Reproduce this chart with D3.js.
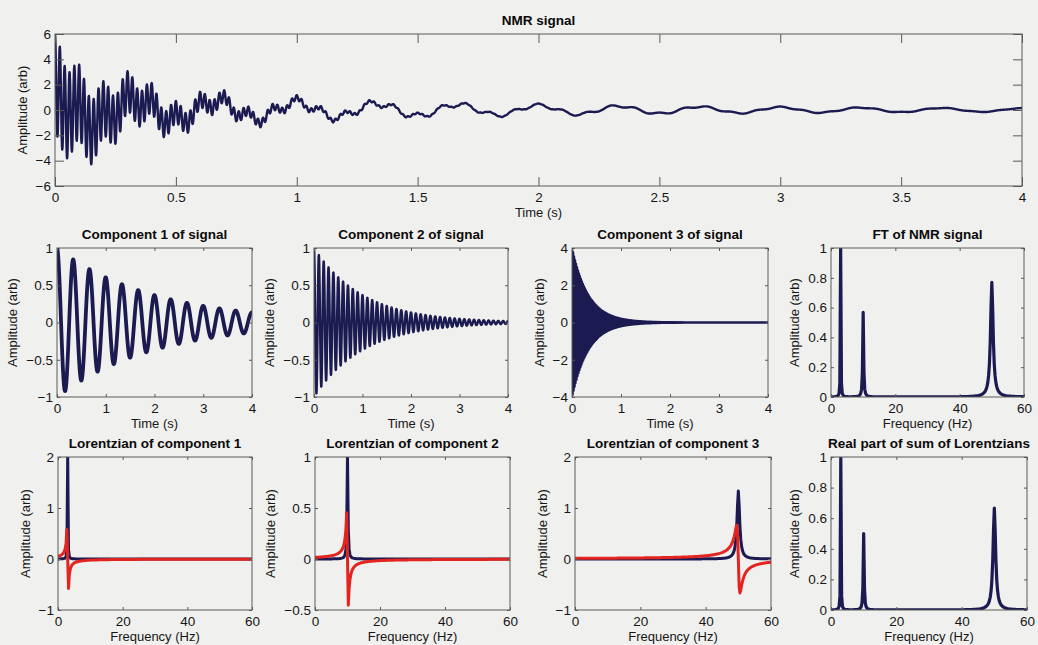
<!DOCTYPE html>
<html><head><meta charset="utf-8">
<script src="https://cdn.jsdelivr.net/npm/d3@7"></script>
<style>
html,body{margin:0;padding:0;background:#f0f0ee;}
svg{display:block;font-family:"Liberation Sans",Arial,Helvetica,sans-serif;}
</style></head><body>
<svg id="chart" width="1038" height="645"></svg>
<script>
// ---------- values ----------
// three damped oscillations that make up the NMR signal
const componentFreqHz    = [3, 10, 50];     // peak positions in the spectra
const componentAmplitude = [1, 1, 4];       // starting amplitudes of components 1..3
const componentDecayS    = [2, 1, 0.333];   // decay times (from envelopes / Lorentzian heights)
const sampleRateHz = 1000;
const durationS = 4;
const freqStepHz = 0.25;
const freqMaxHz = 60;

const panelTitles = ["NMR signal", "Component 1 of signal", "Component 2 of signal", "Component 3 of signal",
  "FT of NMR signal", "Lorentzian of component 1", "Lorentzian of component 2",
  "Lorentzian of component 3", "Real part of sum of Lorentzians"];
const xLabels = ["Time (s)", "Frequency (Hz)"];
const yLabel = "Amplitude (arb)";

const topXTicks = [0, 0.5, 1, 1.5, 2, 2.5, 3, 3.5, 4];
const topYTicks = [-6, -4, -2, 0, 2, 4, 6];
const timeTicks = [0, 1, 2, 3, 4];
const freqTicks = [0, 20, 40, 60];
const unitTicks = [-1, -0.5, 0, 0.5, 1];
const comp3Ticks = [-4, -2, 0, 2, 4];
const normTicks = [0, 0.2, 0.4, 0.6, 0.8, 1];
const lor13Ticks = [-1, 0, 1, 2];
const lor2Ticks = [-0.5, 0, 0.5, 1];

// ---------- series built from those values ----------
const times = d3.range(0, durationS * sampleRateHz + 1).map(n => n / sampleRateHz);
const comps = componentFreqHz.map((f, k) =>
  times.map(t => [t, componentAmplitude[k] * Math.cos(2 * Math.PI * f * t) * Math.exp(-t / componentDecayS[k])]));
const nmrSignal = times.map((t, i) => [t, d3.sum(comps, c => c[i][1])]);

const freqs = d3.range(0, Math.round(freqMaxHz / freqStepHz) + 1).map(i => i * freqStepHz);
const lorentz = componentFreqHz.map((f0, k) => freqs.map(f => {
  const T = componentDecayS[k], A = componentAmplitude[k];
  const x = 2 * Math.PI * (f - f0) * T;
  return {f, re: A * T / (1 + x * x), im: -A * T * x / (1 + x * x)};
}));
// spectrum of the recorded (4 s long) signal
const ftRaw = freqs.map(f => {
  let re = 0;
  componentFreqHz.forEach((f0, k) => {
    const T = componentDecayS[k], A = componentAmplitude[k];
    const x = 2 * Math.PI * (f - f0) * T;
    re += A * T * (1 - Math.exp(-durationS / T)) / (1 + x * x);
  });
  return [f, re];
});
const ftMax = d3.max(ftRaw, d => d[1]);
const ftNorm = ftRaw.map(d => [d[0], d[1] / ftMax]);
const realSumRaw = freqs.map((f, i) => [f, d3.sum(lorentz, L => L[i].re)]);
const realMax = d3.max(realSumRaw, d => d[1]);
const realSumNorm = realSumRaw.map(d => [d[0], d[1] / realMax]);

// ---------- drawing ----------
const svg = d3.select("#chart");
const navy = "#1b1b52", red = "#e3241f", axisColor = "#5a5a56", textColor = "#161616";
const FS = 13.5;
const numFmt = d3.format("");
let clipN = 0;

function panel(o) {
  const g = svg.append("g");
  const x = d3.scaleLinear().domain(o.xDomain).range([o.left, o.right]);
  const y = d3.scaleLinear().domain(o.yDomain).range([o.bottom, o.top]);
  const id = "clip" + (clipN++);
  svg.append("clipPath").attr("id", id).append("rect")
    .attr("x", o.left).attr("y", o.top).attr("width", o.right - o.left).attr("height", o.bottom - o.top);

  o.series.forEach(s => {
    g.append("path").datum(s.data)
      .attr("clip-path", `url(#${id})`)
      .attr("fill", "none").attr("stroke", s.color).attr("stroke-width", s.width || 3)
      .attr("stroke-linejoin", "round").attr("stroke-linecap", "round")
      .attr("d", d3.line().x(d => x(d[0])).y(d => y(d[1])));
  });

  const tl = o.tick;
  const styleAxis = sel => {
    sel.select(".domain").remove();
    sel.selectAll(".tick line").attr("stroke", axisColor).attr("stroke-width", 1);
    sel.selectAll(".tick text").attr("fill", textColor).style("font-size", FS + "px");
  };
  g.append("g").attr("transform", `translate(0,${o.bottom})`)
    .call(d3.axisBottom(x).tickValues(o.xTicks).tickFormat(numFmt).tickSize(-tl).tickPadding(6)).call(styleAxis);
  g.append("g").attr("transform", `translate(0,${o.top})`)
    .call(d3.axisTop(x).tickValues(o.xTicks).tickSize(-tl).tickFormat("")).call(styleAxis);
  const ly = g.append("g").attr("transform", `translate(${o.left},0)`)
    .call(d3.axisLeft(y).tickValues(o.yTicks).tickFormat(numFmt).tickSize(-tl).tickPadding(4)).call(styleAxis);
  g.append("g").attr("transform", `translate(${o.right},0)`)
    .call(d3.axisRight(y).tickValues(o.yTicks).tickSize(-tl).tickFormat("")).call(styleAxis);
  g.append("rect").attr("x", o.left).attr("y", o.top)
    .attr("width", o.right - o.left).attr("height", o.bottom - o.top)
    .attr("fill", "none").attr("stroke", axisColor).attr("stroke-width", 1);

  g.append("text").attr("x", (o.left + o.right) / 2).attr("y", o.top - 9)
    .attr("text-anchor", "middle").attr("fill", "#0a0a0a")
    .style("font-size", FS + "px").style("font-weight", "bold").text(o.title);
  g.append("text").attr("x", (o.left + o.right) / 2).attr("y", o.bottom + 31)
    .attr("text-anchor", "middle").attr("fill", textColor)
    .style("font-size", "13px").text(o.xLabel);
  let minX = o.left;
  ly.selectAll(".tick text").each(function () { minX = Math.min(minX, this.getBBox().x + o.left); });
  const cx = minX - 9;
  g.append("text").attr("transform", `translate(${cx},${(o.top + o.bottom) / 2}) rotate(-90)`)
    .attr("text-anchor", "middle").attr("fill", textColor)
    .style("font-size", "13px").text(yLabel);
}

const r2 = {top: 248, bottom: 397}, r3 = {top: 457, bottom: 610};

panel({left: 55, right: 1022, top: 34, bottom: 186, xDomain: [0, 4], yDomain: [-6, 6],
  xTicks: topXTicks, yTicks: topYTicks, tick: 9, title: panelTitles[0], xLabel: xLabels[0],
  series: [{data: nmrSignal, color: navy, width: 2.4}]});

const compTicks = [unitTicks, unitTicks, comp3Ticks];
const compDomains = [[-1, 1], [-1, 1], [-4, 4]];
const r2x = [[57, 252], [314, 508], [572, 768]];
const compWidths = [3.8, 2.4, 2.6];
comps.forEach((c, k) => panel({left: r2x[k][0], right: r2x[k][1], ...r2, xDomain: [0, 4], yDomain: compDomains[k],
  xTicks: timeTicks, yTicks: compTicks[k], tick: 3, title: panelTitles[k + 1], xLabel: xLabels[0],
  series: [{data: c, color: navy, width: compWidths[k]}]}));

panel({left: 831, right: 1024, ...r2, xDomain: [0, 60], yDomain: [0, 1],
  xTicks: freqTicks, yTicks: normTicks, tick: 3, title: panelTitles[4], xLabel: xLabels[1],
  series: [{data: ftNorm, color: navy, width: 3.2}]});

const lorDomains = [[-1, 2], [-0.5, 1], [-1, 2]];
const lorTicks = [lor13Ticks, lor2Ticks, lor13Ticks];
const r3x = [[58, 252], [315, 510], [575, 771]];
lorentz.forEach((L, k) => panel({left: r3x[k][0], right: r3x[k][1], ...r3, xDomain: [0, 60], yDomain: lorDomains[k],
  xTicks: freqTicks, yTicks: lorTicks[k], tick: 3, title: panelTitles[k + 5], xLabel: xLabels[1],
  series: [{data: L.map(d => [d.f, d.re]), color: navy, width: 3},
           {data: L.map(d => [d.f, d.im]), color: red, width: 3}]}));

panel({left: 831, right: 1027, ...r3, xDomain: [0, 60], yDomain: [0, 1],
  xTicks: freqTicks, yTicks: normTicks, tick: 3, title: panelTitles[8], xLabel: xLabels[1],
  series: [{data: realSumNorm, color: navy, width: 3.2}]});
</script>
</body></html>
